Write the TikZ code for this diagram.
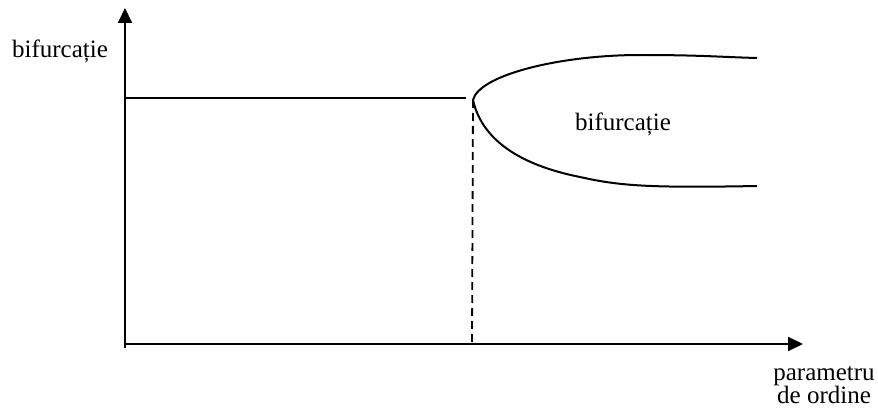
\documentclass[tikz,border=0pt]{standalone}
\usepackage{fontspec}
\setmainfont{Liberation Serif}
\usetikzlibrary{arrows.meta}
\begin{document}
\begin{tikzpicture}[x=1pt,y=-1pt,
  axis/.style={line width=2.1pt,-{Triangle[length=15pt,width=14pt]}},
  curve/.style={line width=2pt},
  dashline/.style={line width=1.8pt,dash pattern=on 8pt off 5pt},
  lbl/.style={inner sep=0pt,font=\fontsize{25}{23}\selectfont,align=center}]
\useasboundingbox (0,0) rectangle (878,412);
% axes
\coordinate (ybot) at (125,348);
\coordinate (ytip) at (125,8);
\coordinate (xstart) at (124,344);
\coordinate (xtip) at (803,344);
\draw[axis] (ybot) -- (ytip);
\draw[axis] (xstart) -- (xtip);
% horizontal branch
\coordinate (hstart) at (125,98);
\coordinate (hend) at (466,98);
\draw[curve] (hstart) -- (hend);
% bifurcation point
\coordinate (bif) at (473,100);
\coordinate (bifbase) at (472,344);
\coordinate (upmid) at (640,55);
\coordinate (upend) at (757,58);
\coordinate (lowmid) at (580,177);
\coordinate (lowend) at (757,186);
\draw[curve] (bif) .. controls (479,75) and (560,55) .. (upmid)
  .. controls (700,55) and (720,57) .. (upend);
\draw[curve] (bif) .. controls (482,140) and (520,165) .. (lowmid)
  .. controls (620,186) and (650,188) .. (lowend);
\draw[dashline] (bif) -- (bifbase);
% labels
\node[lbl,anchor=base] (ylabel) at (60,58) {bifurcație};
\node[lbl,anchor=base] (inlabel) at (623,130) {bifurcație};
\node[lbl,anchor=base] (xlabel) at (824,403) {parametru\\de ordine};
\end{tikzpicture}
\end{document}
